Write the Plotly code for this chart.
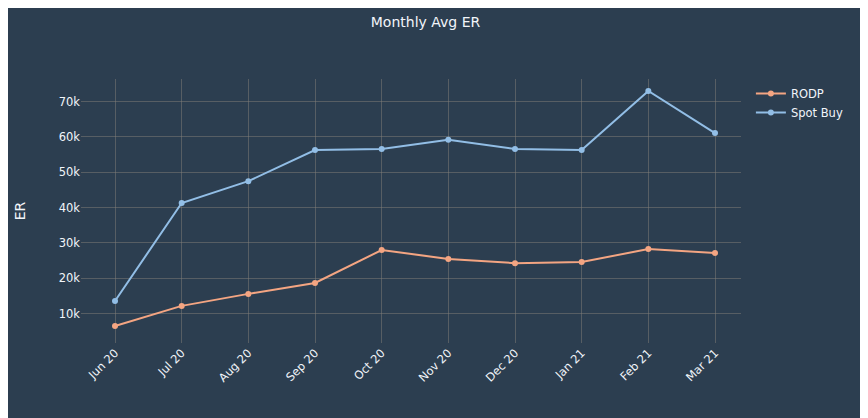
import plotly.graph_objects as go

months = ["Jun 20", "Jul 20", "Aug 20", "Sep 20", "Oct 20", "Nov 20", "Dec 20", "Jan 21", "Feb 21", "Mar 21"]
rodp = [6500, 12200, 15600, 18700, 28000, 25500, 24300, 24600, 28300, 27200]
spot_buy = [13600, 41300, 47500, 56300, 56600, 59200, 56600, 56300, 73000, 61100]

fig = go.Figure()
fig.add_trace(go.Scatter(x=months, y=rodp, mode="lines+markers", name="RODP",
                         line=dict(color="#f4a582", width=2), marker=dict(size=6)))
fig.add_trace(go.Scatter(x=months, y=spot_buy, mode="lines+markers", name="Spot Buy",
                         line=dict(color="#92bee6", width=2), marker=dict(size=6)))

fig.update_layout(
    width=868, height=418,
    paper_bgcolor="#2c3e50", plot_bgcolor="#2c3e50",
    font=dict(family="DejaVu Sans, Verdana, sans-serif", color="#f2f5fa", size=11.5),
    title=dict(text="Monthly Avg ER", x=0.481, y=0.967, xanchor="center", yanchor="middle",
               font=dict(size=14)),
    margin=dict(l=73, r=135, t=71, b=83),
    legend=dict(x=1.015, y=1.0, xanchor="left", yanchor="top", font=dict(size=11.5)),
    xaxis=dict(type="category", range=[-0.51, 9.39], tickangle=-45,
               gridcolor="rgba(130,125,120,0.5)", showline=False, zeroline=False),
    yaxis=dict(title=dict(text="ER", standoff=29), range=[1700, 76400], dtick=10000, tickformat="~s",
               gridcolor="rgba(130,125,120,0.5)", zeroline=False),
)

fig.write_html("out.html")
